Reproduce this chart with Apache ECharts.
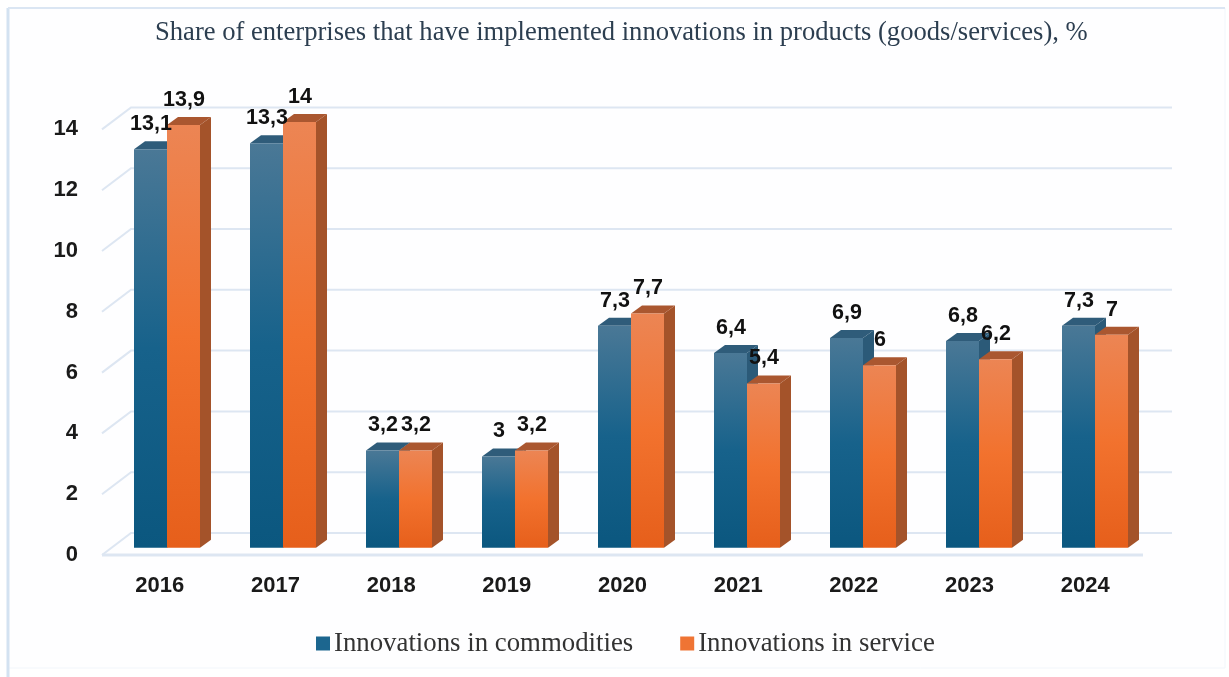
<!DOCTYPE html>
<html>
<head>
<meta charset="utf-8">
<style>
  html, body { margin: 0; padding: 0; background: #ffffff; }
  #chart { width: 1229px; height: 677px; }
</style>
<script src="https://cdn.jsdelivr.net/npm/echarts@6/dist/echarts.min.js"></script>
</head>
<body>
<div id="chart"></div>
<script>
const titleText = 'Share of enterprises that have implemented innovations in products (goods/services), %';
const years = ['2016', '2017', '2018', '2019', '2020', '2021', '2022', '2023', '2024'];
const commodities = [13.1, 13.3, 3.2, 3, 7.3, 6.4, 6.9, 6.8, 7.3];
const services = [13.9, 14, 3.2, 3.2, 7.7, 5.4, 6, 6.2, 7];
const yTicks = [0, 2, 4, 6, 8, 10, 12, 14];

const commoditiesName = 'Innovations in commodities';
const servicesName = 'Innovations in service';

// Pseudo-3D extrusion of each column, and the depth of the floor and wall
const BAR_WIDTH = 33;
const DEPTH_X = 11;
const DEPTH_Y = 8;
const WALL_X = 29;
const WALL_Y = 22;
const GRID_COLOR = '#dde6f2';

const commoditiesPalette = {
  front: ['#4a7896', '#17628b', '#0b577f'],
  side: '#2b5a78',
  top: '#2f5c7a',
  legend: '#1c668f'
};
const servicesPalette = {
  front: ['#ec8554', '#f2722e', '#e65f1b'],
  side: '#a4532a',
  top: '#aa5730',
  legend: '#ef7434'
};

const frontFill = (stops) => ({
  type: 'linear', x: 0, y: 0, x2: 0, y2: 1,
  colorStops: [
    { offset: 0, color: stops[0] },
    { offset: 0.5, color: stops[1] },
    { offset: 1, color: stops[2] }
  ]
});

// Draws one extruded column: side and top faces, front face, and its value label
function columnRenderer(palette, slot) {
  return function (params, api) {
    const value = api.value(1);
    const top = api.coord([api.value(0), value]);
    const base = api.coord([api.value(0), 0]);
    const x0 = top[0] + slot * BAR_WIDTH;
    const x1 = x0 + BAR_WIDTH;
    const yt = top[1];
    const yb = base[1];
    return {
      type: 'group',
      children: [
        {
          type: 'polygon',
          shape: { points: [[x1, yt], [x1 + DEPTH_X, yt - DEPTH_Y], [x1 + DEPTH_X, yb - DEPTH_Y], [x1, yb]] },
          style: { fill: palette.side }
        },
        {
          type: 'polygon',
          shape: { points: [[x0, yt], [x0 + DEPTH_X, yt - DEPTH_Y], [x1 + DEPTH_X, yt - DEPTH_Y], [x1, yt]] },
          style: { fill: palette.top }
        },
        {
          type: 'rect',
          shape: { x: x0, y: yt, width: BAR_WIDTH, height: yb - yt },
          style: { fill: frontFill(palette.front) }
        },
        {
          type: 'text',
          z2: 100,
          style: {
            x: x0 + BAR_WIDTH / 2 + 0.5,
            y: yt - 25,
            text: String(value).replace('.', ','),
            fill: '#111111',
            font: 'bold 21.5px "Liberation Sans", Arial, sans-serif',
            align: 'center',
            verticalAlign: 'middle'
          }
        }
      ]
    };
  };
}

// Floor edge, wall edge and back gridline for one y tick
function renderWallLine(params, api) {
  const tick = api.value(0);
  const area = params.coordSys;
  const y = api.coord([0, tick])[1];
  const left = area.x;
  const right = area.x + area.width;
  const children = [{
    type: 'polyline',
    shape: { points: [[left, y], [left + WALL_X, y - WALL_Y], [right + WALL_X, y - WALL_Y]] },
    style: { stroke: GRID_COLOR, lineWidth: 2, fill: null }
  }];
  if (tick === 0) {
    children.push({
      type: 'line',
      shape: { x1: left, y1: y, x2: right, y2: y },
      style: { stroke: GRID_COLOR, lineWidth: 3 }
    });
  }
  return { type: 'group', children };
}

const chart = echarts.init(document.getElementById('chart'), null, { renderer: 'canvas' });

chart.setOption({
  animation: false,
  backgroundColor: '#ffffff',
  title: {
    text: titleText,
    left: 150,
    top: 15,
    textStyle: {
      fontFamily: '"Liberation Serif", "Times New Roman", serif',
      fontWeight: 'normal',
      fontSize: 26.6,
      color: '#2c3e50'
    }
  },
  legend: {
    data: [commoditiesName, servicesName],
    left: 316,
    top: 630,
    padding: 0,
    icon: 'rect',
    itemWidth: 14,
    itemHeight: 14,
    itemGap: 47,
    textStyle: {
      fontFamily: '"Liberation Serif", "Times New Roman", serif',
      fontSize: 26.8,
      color: '#333333',
      padding: [0, 0, 0, -1]
    }
  },
  graphic: [{
    type: 'rect',
    silent: true,
    z: -1,
    shape: { x: 8, y: 8, width: 1217, height: 660 },
    style: { fill: '#fefeff', stroke: '#f2f6fb', lineWidth: 1 }
  }, {
    type: 'line',
    silent: true,
    z: -1,
    shape: { x1: 8, y1: 8, x2: 8, y2: 677 },
    style: { stroke: '#d3e2f1', lineWidth: 3 }
  }, {
    type: 'line',
    silent: true,
    z: -1,
    shape: { x1: 8, y1: 8, x2: 1225, y2: 8 },
    style: { stroke: '#dbe6f3', lineWidth: 2 }
  }],
  grid: [
    // Front edge of the floor: carries the axis labels and the wall lines
    { left: 102, top: 129.4, width: 1041, height: 425.6 },
    // Plane of the column front faces, set back from the floor edge
    { left: 109, top: 122, width: 1044, height: 425.7 }
  ],
  xAxis: [
    {
      gridIndex: 0,
      type: 'category',
      data: years,
      axisLine: { show: false },
      axisTick: { show: false },
      axisLabel: {
        margin: 20,
        color: '#1a1a1a',
        fontFamily: '"Liberation Sans", Arial, sans-serif',
        fontWeight: 'bold',
        fontSize: 22
      }
    },
    {
      gridIndex: 1,
      type: 'category',
      data: years,
      show: false
    }
  ],
  yAxis: [
    {
      gridIndex: 0,
      type: 'value',
      min: 0,
      max: 14,
      interval: 2,
      axisLine: { show: false },
      axisTick: { show: false },
      splitLine: { show: false },
      axisLabel: {
        margin: 24,
        color: '#1a1a1a',
        fontFamily: '"Liberation Sans", Arial, sans-serif',
        fontWeight: 'bold',
        fontSize: 22
      }
    },
    {
      gridIndex: 1,
      type: 'value',
      min: 0,
      max: 14,
      interval: 2,
      show: false
    }
  ],
  series: [
    {
      name: 'wall',
      type: 'custom',
      silent: true,
      xAxisIndex: 0,
      yAxisIndex: 0,
      renderItem: renderWallLine,
      encode: { y: 0 },
      data: yTicks.map((t) => [t])
    },
    {
      name: commoditiesName,
      type: 'custom',
      xAxisIndex: 1,
      yAxisIndex: 1,
      renderItem: columnRenderer(commoditiesPalette, -1),
      itemStyle: { color: commoditiesPalette.legend },
      encode: { x: 0, y: 1 },
      data: commodities.map((v, i) => [i, v])
    },
    {
      name: servicesName,
      type: 'custom',
      xAxisIndex: 1,
      yAxisIndex: 1,
      renderItem: columnRenderer(servicesPalette, 0),
      itemStyle: { color: servicesPalette.legend },
      encode: { x: 0, y: 1 },
      data: services.map((v, i) => [i, v])
    }
  ]
});
</script>
</body>
</html>
